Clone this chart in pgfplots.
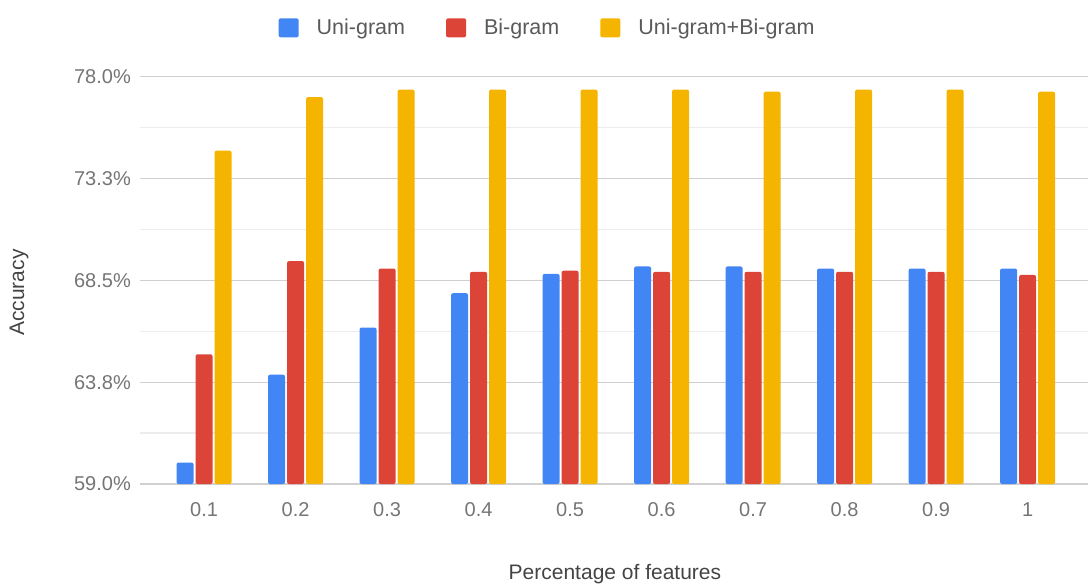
\documentclass[border=0pt]{standalone}
\usepackage{fontspec}
\setmainfont{Liberation Sans}
\usepackage{pgfplots}
\pgfplotsset{compat=1.18}

\definecolor{gblue}{HTML}{4285F4}
\definecolor{gred}{HTML}{DB4437}
\definecolor{gyellow}{HTML}{F4B400}
\definecolor{tickgray}{HTML}{757575}
\definecolor{legendgray}{HTML}{5A5A5A}
\definecolor{titlegray}{HTML}{444444}
\definecolor{majgrid}{HTML}{D0D0D0}
\definecolor{mingrid}{HTML}{ECECEC}

\begin{document}
\begin{tikzpicture}
\useasboundingbox (-140pt,-103pt) rectangle (950pt,484pt);
\begin{axis}[
  at={(0pt,0pt)}, anchor=south west,
  scale only axis,
  width=948pt, height=407.3pt,
  xmin=-0.7, xmax=9.66,
  ymin=59, ymax=78,
  ybar=2pt, bar width=17pt,
  axis line style={draw=none},
  major tick length=0pt, minor tick length=0pt,
  xtick={0,1,2,3,4,5,6,7,8,9},
  xticklabels={0.1,0.2,0.3,0.4,0.5,0.6,0.7,0.8,0.9,1},
  ytick={59,63.75,68.5,73.25,78},
  yticklabels={59.0\%,63.8\%,68.5\%,73.3\%,78.0\%},
  minor ytick={61.375,66.125,70.875,75.625},
  ymajorgrids, yminorgrids,
  major grid style={majgrid, line width=1.2pt},
  minor grid style={mingrid, line width=1.2pt},
  /pgf/number format/assume math mode=true,
  tick label style={font=\fontsize{20}{24}\selectfont, text=tickgray},
  xticklabel style={anchor=center, yshift=-26pt},
  yticklabel style={anchor=east, inner sep=0pt, xshift=-9pt},
  xlabel={Percentage of features},
  ylabel={Accuracy},
  every axis x label/.style={at={(axis description cs:0.501,-0.221)}, anchor=center,
    font=\fontsize{21}{25}\selectfont, text=titlegray},
  every axis y label/.style={at={(axis description cs:-0.1276,0.47)}, anchor=center,
    rotate=90, font=\fontsize{21}{25}\selectfont, text=titlegray},
  legend columns=3,
  legend style={at={(axis description cs:0.43,1.12)}, anchor=center, draw=none, fill=none,
    font=\fontsize{21.5}{25}\selectfont, text=legendgray,
    nodes={inner sep=2pt},
    /tikz/every odd column/.append style={column sep=16pt},
    /tikz/every even column/.append style={column sep=39pt}},
  every axis plot/.append style={draw=none, rounded corners=2pt},
]
\addplot[fill=gblue, draw=none,
  legend image code/.code={\fill[gblue, rounded corners=2pt] (0pt,-9.5pt) rectangle (20pt,9.5pt);}]
  coordinates {(0,60.0) (1,64.1) (2,66.3) (3,67.9) (4,68.8) (5,69.15) (6,69.15) (7,69.05) (8,69.05) (9,69.05)};
\addplot[fill=gred, draw=none,
  legend image code/.code={\fill[gred, rounded corners=2pt] (0pt,-9.5pt) rectangle (20pt,9.5pt);}]
  coordinates {(0,65.05) (1,69.4) (2,69.05) (3,68.9) (4,68.95) (5,68.9) (6,68.9) (7,68.9) (8,68.9) (9,68.75)};
\addplot[fill=gyellow, draw=none,
  legend image code/.code={\fill[gyellow, rounded corners=2pt] (0pt,-9.5pt) rectangle (20pt,9.5pt);}]
  coordinates {(0,74.55) (1,77.05) (2,77.4) (3,77.4) (4,77.4) (5,77.4) (6,77.3) (7,77.4) (8,77.4) (9,77.3)};
\legend{Uni-gram, Bi-gram, Uni-gram+Bi-gram}
\end{axis}
\end{tikzpicture}
\end{document}
